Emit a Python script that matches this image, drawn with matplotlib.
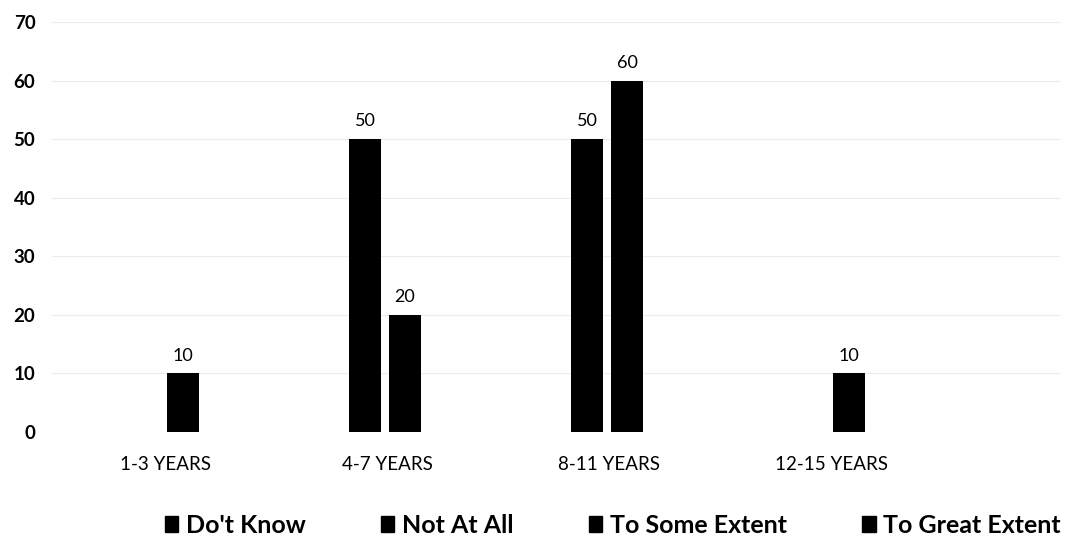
import numpy as np
import matplotlib
matplotlib.use("Agg")
import matplotlib.pyplot as plt
from matplotlib.patches import Patch

plt.rcParams["font.family"] = ["Lato", "DejaVu Sans"]

categories = ["1-3 YEARS", "4-7 YEARS", "8-11 YEARS", "12-15 YEARS"]
series_names = ["Do't Know", "Not At All", "To Some Extent", "To Great Extent"]
dont_know = [None, None, None, None]
not_at_all = [None, 50, 50, None]
some_extent = [10, 20, 60, 10]
great_extent = [None, None, None, None]
y_ticks = [0, 10, 20, 30, 40, 50, 60, 70]

all_series = [dont_know, not_at_all, some_extent, great_extent]

fig = plt.figure(figsize=(10.71, 5.38), dpi=100)
ax = fig.add_axes([0.0486, 0.197, 0.941, 0.762])

x = np.arange(len(categories))
slot = 0.18
width = 0.145
offsets = (np.arange(4) - 1.5) * slot

for vals, off, name in zip(all_series, offsets, series_names):
    h = np.array([np.nan if v is None else v for v in vals], dtype=float)
    bars = ax.bar(x + off, h, width, color="black", label=name)
    labels = ["" if v is None else f"{v:g}" for v in vals]
    ax.bar_label(bars, labels=labels, padding=7, fontsize=13)

ax.set_ylim(0, 70)
ax.set_xlim(-0.5, 4.04)
ax.set_yticks(y_ticks)
ax.set_xticks(x + 0.01)
ax.set_xticklabels(categories, fontsize=13.5)
ax.tick_params(axis="y", length=0, pad=12, labelsize=13.5)
ax.tick_params(axis="x", length=0, pad=17)
for lbl in ax.get_yticklabels():
    lbl.set_fontweight("bold")

ax.yaxis.grid(True, color="#ececec", linewidth=0.8)
ax.set_axisbelow(True)
for s in ax.spines.values():
    s.set_visible(False)

handles = [Patch(facecolor="black", edgecolor="black") for _ in series_names]
fig.legend(handles, series_names, loc="center", ncol=4,
           bbox_to_anchor=(0.572, 0.024), frameon=False,
           prop={"weight": "bold", "size": 18},
           handlelength=0.55, handleheight=0.6, handletextpad=0.3,
           columnspacing=3.0)

fig.savefig("out.png", dpi=100, facecolor="white")
